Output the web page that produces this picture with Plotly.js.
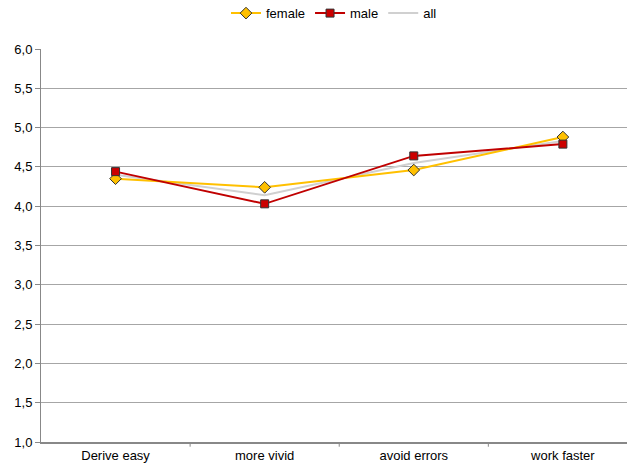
<!DOCTYPE html>
<html>
<head>
<meta charset="utf-8">
<script src="https://cdn.plot.ly/plotly-3.0.1.min.js"></script>
<style>html,body{margin:0;padding:0;background:#fff;}#chart{width:627px;height:470px;}</style>
</head>
<body>
<div id="chart"></div>
<script>
const categories = ["Derive easy", "more vivid", "avoid errors", "work faster"];
const female = [4.35, 4.24, 4.46, 4.88];
const male = [4.44, 4.03, 4.64, 4.79];
const all = [4.40, 4.14, 4.55, 4.83];
const yTicks = [1, 1.5, 2, 2.5, 3, 3.5, 4, 4.5, 5, 5.5, 6];

const idx = categories.map((c, i) => i);

const traces = [
  {
    x: idx, y: female, name: "female", type: "scatter", mode: "lines+markers",
    line: {color: "#FFC000", width: 2},
    marker: {symbol: "diamond", size: 9, color: "#FFC000", line: {color: "#333333", width: 1}}
  },
  {
    x: idx, y: male, name: "male", type: "scatter", mode: "lines+markers",
    line: {color: "#C00000", width: 2},
    marker: {symbol: "square", size: 8, color: "#CC0000", line: {color: "#333333", width: 1}}
  },
  {
    x: idx, y: all, name: "all", type: "scatter", mode: "lines",
    line: {color: "#D0D0D0", width: 2}
  }
];
const ordered = [traces[2], traces[0], traces[1]];
ordered[0].legendrank = 3; ordered[1].legendrank = 1; ordered[2].legendrank = 2;

const layout = {
  width: 627, height: 470,
  margin: {l: 41, r: 0, t: 49, b: 28},
  paper_bgcolor: "#ffffff", plot_bgcolor: "#ffffff",
  separators: ",.",
  font: {family: "Liberation Sans, Arial, sans-serif", size: 12, color: "#000"},
  showlegend: true,
  legend: {orientation: "h", x: 0.5, xanchor: "center", y: 0.972, yref: "container", yanchor: "middle",
           font: {size: 13}, traceorder: "normal", itemwidth: 30},
  xaxis: {
    range: [-0.5, 3.43],
    tickmode: "array", tickvals: idx, ticktext: categories,
    showgrid: false, zeroline: false,
    showline: true, linecolor: "#888888", linewidth: 2,
    ticks: "", tickfont: {size: 13}
  },
  yaxis: {
    range: [1, 6],
    tickmode: "array", tickvals: yTicks,
    tickformat: ".1f",
    showgrid: true, gridcolor: "#A6A6A6", gridwidth: 1,
    zeroline: false,
    showline: true, linecolor: "#888888", linewidth: 1,
    ticks: "outside", ticklen: 5, tickcolor: "#888888",
    tickfont: {size: 13}
  },
  shapes: [1, 2, 3].map(k => ({
    type: "line", xref: "x", yref: "paper", x0: k - 0.5, x1: k - 0.5, y0: 0, y1: -0.012,
    line: {color: "#888888", width: 1}
  }))
};

Plotly.newPlot("chart", ordered, layout, {displayModeBar: false, staticPlot: true});
</script>
</body>
</html>
